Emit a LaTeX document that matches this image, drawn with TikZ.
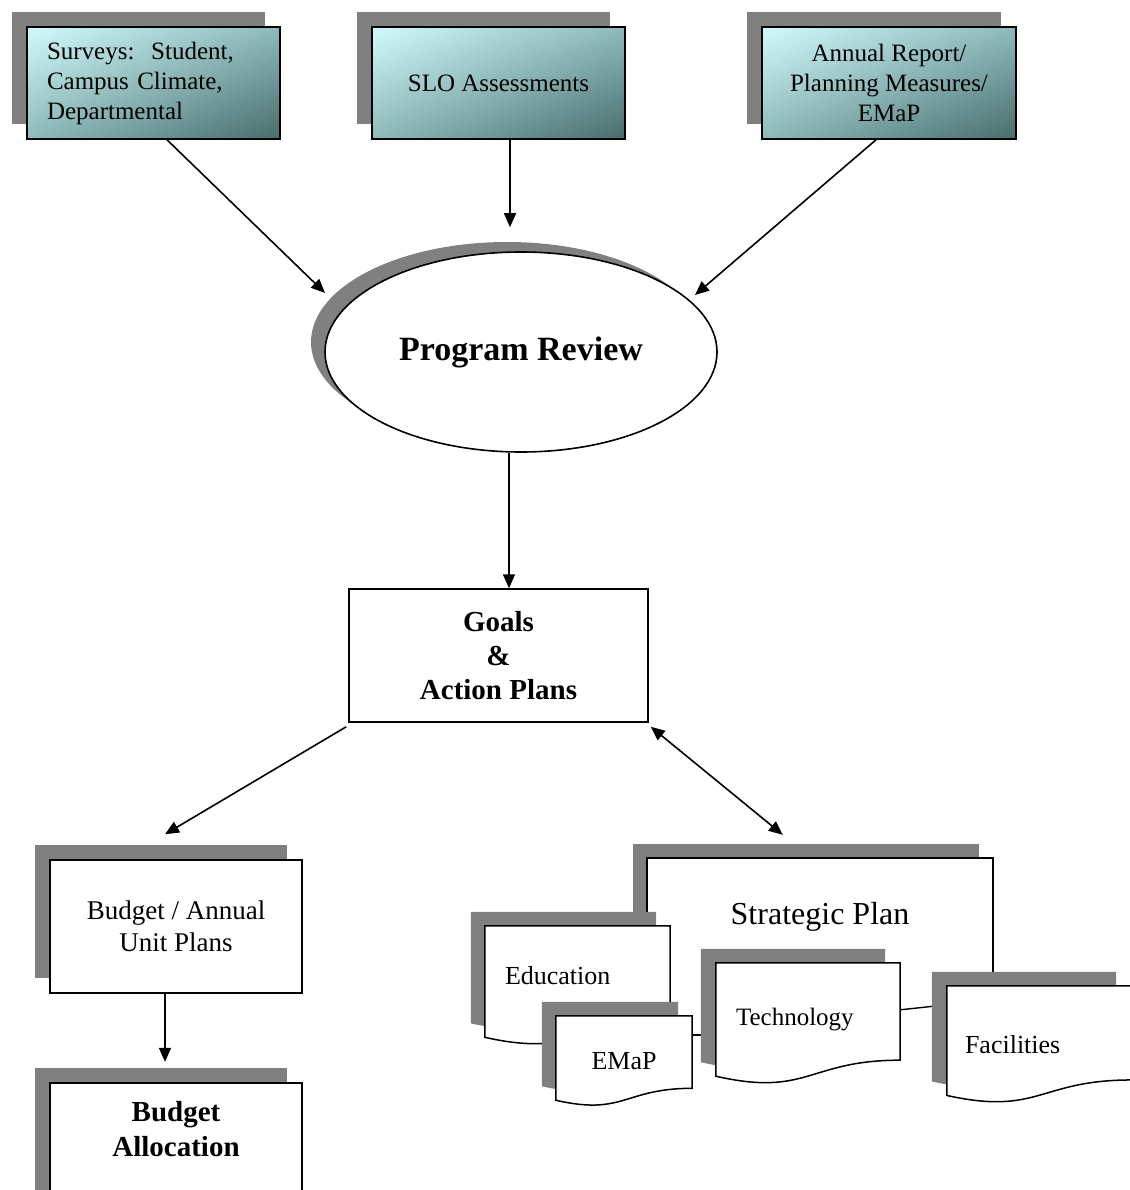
\documentclass[tikz,border=0pt]{standalone}
\usepackage{fontspec}
\setmainfont{Liberation Serif}
\usetikzlibrary{arrows.meta,shapes.geometric,shadows,shadings,calc}
\pgfdeclarelayer{background}
\pgfsetlayers{background,main}

\definecolor{shadowgray}{RGB}{128,128,128}
\definecolor{tealhi}{RGB}{210,250,250}
\definecolor{tealmid}{RGB}{142,186,186}
\definecolor{tealdk}{RGB}{72,108,108}

% flowchart "document" outline of a node: flat top, wavy bottom
\newcommand\docshape[2]{%
  \path[#2] (#1.north west) -- (#1.north east)
    -- ($(#1.north east)!0.802!(#1.south east)$)
    .. controls ($(#1.north)!0.802!(#1.south)$) and ($(#1.north)!1.1075!(#1.south)$)
    .. ($(#1.north west)!0.934!(#1.south west)$) -- cycle;}

\begin{document}
\begin{tikzpicture}[x=1pt, y=-1pt,
  every node/.style={inner sep=0pt},
  shadowed/.style={general shadow={fill=shadowgray, shadow xshift=-15pt, shadow yshift=15pt}},
  srcbox/.style={shadowed, draw, line width=1.6pt, minimum width=253pt, minimum height=112pt,
    upper left=tealhi, upper right=tealmid, lower left=tealmid, lower right=tealdk,
    font=\fontsize{25}{30}\selectfont, align=center},
  plainbox/.style={draw, line width=1.5pt, fill=white, minimum width=252pt,
    minimum height=133pt, align=center},
  docnode/.style={minimum width=#1, font=\fontsize{26}{30}\selectfont},
  conn/.style={line width=1.6pt, -{Triangle[length=14pt,width=12pt]}},
  bothconn/.style={line width=1.6pt,
    {Triangle[length=14pt,width=12pt]}-{Triangle[length=14pt,width=12pt]}},
  outline/.style={line width=1.5pt},
  link/.style={line width=1.4pt}
]
\useasboundingbox (0,0) rectangle (1129,1190);

% sources
\node[srcbox, text width=213pt, inner xsep=20pt, align=left] (sur) at (153.5,83)
  {Surveys: \,Student,\\Campus Climate,\\Departmental};
\node[srcbox] (slo) at (498.5,83) {SLO Assessments};
\node[srcbox, minimum width=254pt] (ann) at (889,83)
  {Annual Report/\\Planning Measures/\\EMaP};

% program review
\node[ellipse, draw, line width=1.6pt, fill=white, minimum width=392pt, minimum height=200pt,
  general shadow={fill=shadowgray, shadow xshift=-14pt, shadow yshift=10pt},
  font=\fontsize{34}{40}\selectfont\bfseries] (pr) at (521,352) {Program Review};

% goals
\node[plainbox, minimum width=299pt, font=\fontsize{29}{34}\selectfont\bfseries]
  (goals) at (498.5,655.5) {Goals\\\&\\Action Plans};

% budget branch
\node[plainbox, shadowed, font=\fontsize{27}{32}\selectfont] (bud) at (176,926.5)
  {Budget / Annual\\Unit Plans};
\node[minimum width=252pt, minimum height=93pt, align=center,
  font=\fontsize{29}{35}\selectfont\bfseries] (alloc) at (176,1129.5)
  {Budget\\Allocation};

% strategic plan and its parts
\node[minimum width=346pt, minimum height=142pt, text depth=32pt,
  font=\fontsize{32}{38}\selectfont] (strat) at (820,929) {Strategic Plan};
\node[docnode=185pt, minimum height=119pt, text width=145pt, inner xsep=20pt,
  align=left, text depth=21pt] (edu) at (577.5,985.5) {Education};
\node[docnode=136pt, minimum height=90pt] (emap) at (624,1061) {EMaP};
\node[docnode=184pt, minimum height=121pt, text width=144pt, inner xsep=20pt,
  align=left, text depth=13pt, font=\fontsize{25}{30}\selectfont] (tech) at (808,1023.5) {Technology};
\node[docnode=184pt, minimum height=117pt, text width=148pt, inner xsep=18pt,
  align=left] (fac) at (1039,1044.5) {Facilities};

\begin{pgfonlayer}{background}
  \fill[white] (0,0) rectangle (1129,1190);
  % budget allocation box runs past the lower edge
  \fill[shadowgray] ([xshift=-15pt,yshift=15pt]alloc.north west)
    rectangle ([xshift=-15pt,yshift=-60pt]alloc.south east);
  \draw[outline, fill=white] (alloc.north west) rectangle ([yshift=-60pt]alloc.south east);
  % strategic plan frame, lower part hidden behind its parts
  \fill[shadowgray] ([xshift=-14pt,yshift=14pt]strat.north west)
    rectangle ([xshift=-14pt,yshift=14pt]strat.south east);
  \fill[white] (strat.north west) rectangle (strat.south east);
  \draw[outline] (strat.south west) -- (strat.north west) -- (strat.north east) -- (strat.south east);
  % documents
  \docshape{edu}{fill=shadowgray, transform canvas={shift={(-14pt,14pt)}}}
  \docshape{edu}{draw, outline, fill=white}
  \docshape{emap}{fill=shadowgray, transform canvas={shift={(-14pt,14pt)}}}
  \docshape{emap}{draw, outline, fill=white}
  \draw[link] ($(emap.north east)+(0,19)$) -- ($(tech.north west)+(0,72)$);
  \docshape{tech}{fill=shadowgray, transform canvas={shift={(-15pt,14pt)}}}
  \docshape{tech}{draw, outline, fill=white}
  \draw[link] ($(tech.north east)+(0,47)$) -- ($(fac.north west)+(0,19)$);
  \docshape{fac}{fill=shadowgray, transform canvas={shift={(-15pt,14pt)}}}
  \docshape{fac}{draw, outline, fill=white}
\end{pgfonlayer}

% connectors
\draw[conn] ([xshift=13.5pt]sur.south) -- ([xshift=-196pt,yshift=59pt]pr.center);
\draw[conn] ([xshift=11.5pt]slo.south) -- ([xshift=-11pt,yshift=24pt]pr.north);
\draw[conn] ([xshift=-13pt]ann.south) -- ([xshift=174pt,yshift=57pt]pr.center);
\draw[conn] ([xshift=-12pt]pr.south) -- ([xshift=10.5pt]goals.north);
\draw[conn] ([xshift=-2pt,yshift=-4pt]goals.south west) -- ([xshift=-11pt,yshift=25pt]bud.north);
\draw[bothconn] ([xshift=2pt,yshift=-4pt]goals.south east) -- ([xshift=136pt,yshift=23pt]strat.north west);
\draw[conn] ([xshift=-11pt]bud.south) -- ([xshift=-11pt,yshift=21pt]alloc.north);
\end{tikzpicture}
\end{document}
